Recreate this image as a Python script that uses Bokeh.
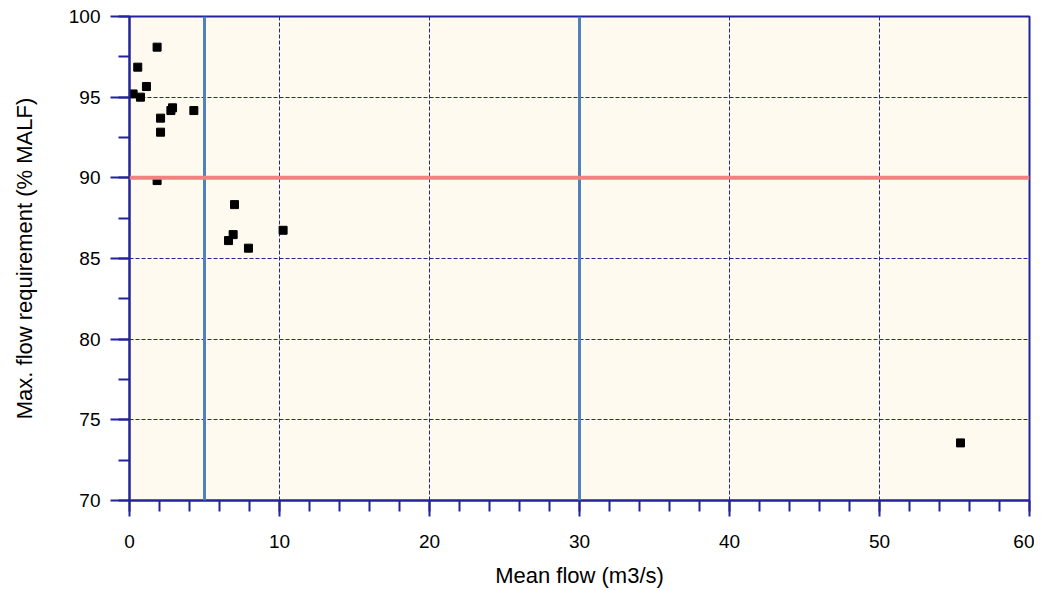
from bokeh.plotting import figure
from bokeh.models import Span, SingleIntervalTicker, ColumnDataSource, Range1d
from bokeh.embed import file_html
from bokeh.resources import INLINE

# Data
mean_flow = [1.84, 0.55, 1.13, 0.24, 0.73, 2.87, 2.76, 4.29, 2.07, 2.07, 1.84,
             7.0, 6.91, 6.6, 7.93, 10.24, 55.4]
max_req = [98.1, 96.86, 95.66, 95.2, 95.0, 94.34, 94.17, 94.17, 93.7, 92.83, 89.83,
           88.34, 86.48, 86.11, 85.64, 86.75, 73.57]
vertical_marks = [5, 30]
horizontal_mark = 90
x_limits = [0, 60]
y_limits = [70, 100]

NAVY = "#23239a"
FONT = "Liberation Sans"

p = figure(width=1034, height=590, output_backend="svg", toolbar_location=None,
           x_range=Range1d(*x_limits), y_range=Range1d(*y_limits),
           min_border_left=129, min_border_right=5, min_border_top=16,
           min_border_bottom=90)

p.background_fill_color = "#FFFAF0"
p.border_fill_color = "white"
p.outline_line_color = NAVY
p.outline_line_width = 2

p.xaxis.ticker = SingleIntervalTicker(interval=10, num_minor_ticks=5)
p.yaxis.ticker = SingleIntervalTicker(interval=5, num_minor_ticks=2)

for ax in (p.xaxis, p.yaxis):
    ax.axis_line_color = NAVY
    ax.axis_line_width = 2
    ax.major_tick_line_color = NAVY
    ax.minor_tick_line_color = NAVY
    ax.major_tick_line_width = 2
    ax.minor_tick_line_width = 2
    ax.major_tick_in = 0
    ax.minor_tick_in = 0
    ax.minor_tick_out = 11
    ax.major_label_text_font = FONT
    ax.major_label_text_font_size = "19px"
    ax.major_label_text_color = "black"
    ax.axis_label_text_font = FONT
    ax.axis_label_text_font_size = "22px"
    ax.axis_label_text_font_style = "normal"
    ax.axis_label_text_color = "black"

p.xaxis.major_tick_out = 16
p.yaxis.major_tick_out = 19
p.xaxis.major_label_standoff = 18
p.yaxis.major_label_standoff = 10
p.xaxis.axis_label = "Mean flow (m3/s)"
p.yaxis.axis_label = "Max. flow requirement (% MALF)"
p.xaxis.axis_label_standoff = 12
p.yaxis.axis_label_standoff = 29

for g in (p.xgrid, p.ygrid):
    g.grid_line_color = NAVY
    g.grid_line_width = 1
    g.grid_line_dash = "4 2"

for xv in vertical_marks:
    p.add_layout(Span(location=xv, dimension="height", line_color="#4F81BD", line_width=3))
p.add_layout(Span(location=horizontal_mark, dimension="width", line_color="#F4817F", line_width=4))

src = ColumnDataSource(dict(x=mean_flow, y=max_req))
p.scatter("x", "y", source=src, marker="square", size=8, fill_color="black", line_color="black")

open("out.html", "w").write(file_html(p, INLINE))
